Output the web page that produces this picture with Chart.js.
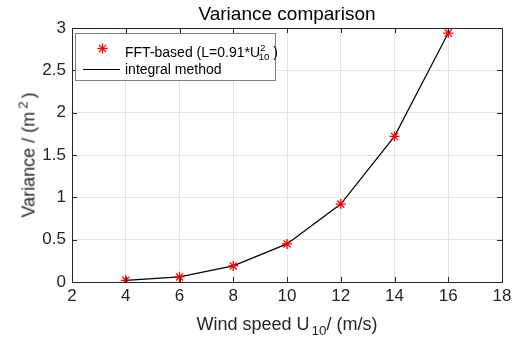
<!DOCTYPE html>
<html>
<head>
<meta charset="utf-8">
<script src="https://cdn.jsdelivr.net/npm/chart.js@4/dist/chart.umd.min.js"></script>
<style>
  body { margin: 0; background: #fff; font-family: Arial, "Liberation Sans", sans-serif; color: #262626; }
  #wrap { position: relative; width: 521px; height: 345px; }
  .lbl { position: absolute; white-space: nowrap; line-height: 1; }
  #title { left: 287px; top: 4px; transform: translateX(-50%); font-size: 19px; color: #000; }
  #xtitle { left: 287px; top: 315px; transform: translateX(-50%); font-size: 18px; }
  #ytitle { left: 27px; top: 155px; transform: translate(-50%, -50%) rotate(-90deg); font-size: 18px; }
  sub, sup { font-size: 75%; }
  #legend { position: absolute; left: 75px; top: 33px; width: 199px; height: 46px; border: 1px solid #808080; background: #fff; font-size: 14px; color: #000; }
  .row { position: absolute; left: 0; width: 199px; height: 20px; line-height: 20px; }
  .row span { position: absolute; left: 49px; white-space: nowrap; }
</style>
</head>
<body>
<div id="wrap">
  <canvas id="myChart" width="521" height="345"></canvas>
  <div class="lbl" id="title">Variance comparison</div>
  <div class="lbl" id="xtitle">Wind speed U<sub style="margin-left:2px">10</sub>/ (m/s)</div>
  <div class="lbl" id="ytitle">Variance / (m<sup style="margin:0 3px">2</sup>)</div>
  <div id="legend">
    <div class="row" style="top:4px">
      <svg style="position:absolute;left:21px;top:5px" width="11" height="11" viewBox="-5.5 -5.5 11 11">
        <g stroke="#ff0000" stroke-width="1.3">
          <line x1="0" y1="-5" x2="0" y2="5"/><line x1="-5" y1="0" x2="5" y2="0"/>
          <line x1="-3.6" y1="-3.6" x2="3.6" y2="3.6"/><line x1="-3.6" y1="3.6" x2="3.6" y2="-3.6"/>
        </g>
      </svg>
      <span>FFT-based (L=0.91*U<sup style="font-size:70%">2</sup><sub style="font-size:70%;margin-left:-7px">10</sub> )</span>
    </div>
    <div class="row" style="top:25px">
      <div style="position:absolute;left:7px;top:10px;width:37px;border-top:1px solid #000"></div>
      <span>integral method</span>
    </div>
  </div>
</div>
<script>
// wind speed U10 (m/s)
const windSpeed = [4, 6, 8, 10, 12, 14, 16];
// FFT-based variance (markers)
const fftVariance = [0.02, 0.06, 0.19, 0.45, 0.92, 1.72, 2.94];
// integral method variance (line)
const integralVariance = [0.02, 0.06, 0.19, 0.45, 0.92, 1.72, 2.94];

const xTicks = [2, 4, 6, 8, 10, 12, 14, 16, 18];
const yTicks = [0, 0.5, 1, 1.5, 2, 2.5, 3];

const axisColor = "#262626";

// kader okoli grafa + notranji tick-i (kot v matlabu)
const boxPlugin = {
    id: "boxPlugin",
    afterDraw(chart) {
        const { ctx, chartArea: a, scales } = chart;
        ctx.save();
        ctx.strokeStyle = axisColor;
        ctx.lineWidth = 1;
        ctx.beginPath();
        xTicks.forEach((v) => {
            const x = Math.round(scales.x.getPixelForValue(v)) + 0.5;
            ctx.moveTo(x, a.bottom); ctx.lineTo(x, a.bottom - 5);
            ctx.moveTo(x, a.top); ctx.lineTo(x, a.top + 5);
        });
        yTicks.forEach((v) => {
            const y = Math.round(scales.y.getPixelForValue(v)) + 0.5;
            ctx.moveTo(a.left, y); ctx.lineTo(a.left + 5, y);
            ctx.moveTo(a.right, y); ctx.lineTo(a.right - 5, y);
        });
        ctx.stroke();
        ctx.strokeRect(Math.round(a.left) + 0.5, Math.round(a.top) + 0.5,
            Math.round(a.right - a.left), Math.round(a.bottom - a.top));
        ctx.restore();
    },
};

const ctx = document.getElementById("myChart");

new Chart(ctx, {
    type: "scatter",
    data: {
        datasets: [
            {
                label: "integral method",
                type: "line",
                data: windSpeed.map((x, i) => ({ x: x, y: integralVariance[i] })),
                borderColor: "#000000",
                borderWidth: 1.2,
                pointRadius: 0,
                tension: 0,
                order: 2,
            },
            {
                label: "FFT-based",
                data: windSpeed.map((x, i) => ({ x: x, y: fftVariance[i] })),
                pointStyle: "star",
                pointRadius: 5,
                borderColor: "#ff0000",
                backgroundColor: "#ff0000",
                pointBorderWidth: 1.3,
                order: 1,
            },
        ],
    },
    options: {
        responsive: false,
        animation: false,
        layout: { padding: { top: 28, right: 19, left: 0, bottom: 0 } },
        plugins: {
            legend: { display: false },
            title: { display: false },
            tooltip: { enabled: false },
        },
        scales: {
            x: {
                type: "linear",
                min: 2,
                max: 18,
                afterBuildTicks: (s) => { s.ticks = xTicks.map((v) => ({ value: v })); },
                afterFit: (s) => { s.height = 63; },
                ticks: { color: axisColor, font: { size: 17, family: "Arial" }, padding: 4, callback: (v) => String(v) },
                grid: { color: "#e3e3e3", drawTicks: false },
                border: { display: false },
            },
            y: {
                min: 0,
                max: 3,
                afterBuildTicks: (s) => { s.ticks = yTicks.map((v) => ({ value: v })); },
                afterFit: (s) => { s.width = 72; },
                ticks: { color: axisColor, font: { size: 17, family: "Arial" }, padding: 6, callback: (v) => String(v) },
                grid: { color: "#e3e3e3", drawTicks: false },
                border: { display: false },
            },
        },
    },
    plugins: [boxPlugin],
});
</script>
</body>
</html>
